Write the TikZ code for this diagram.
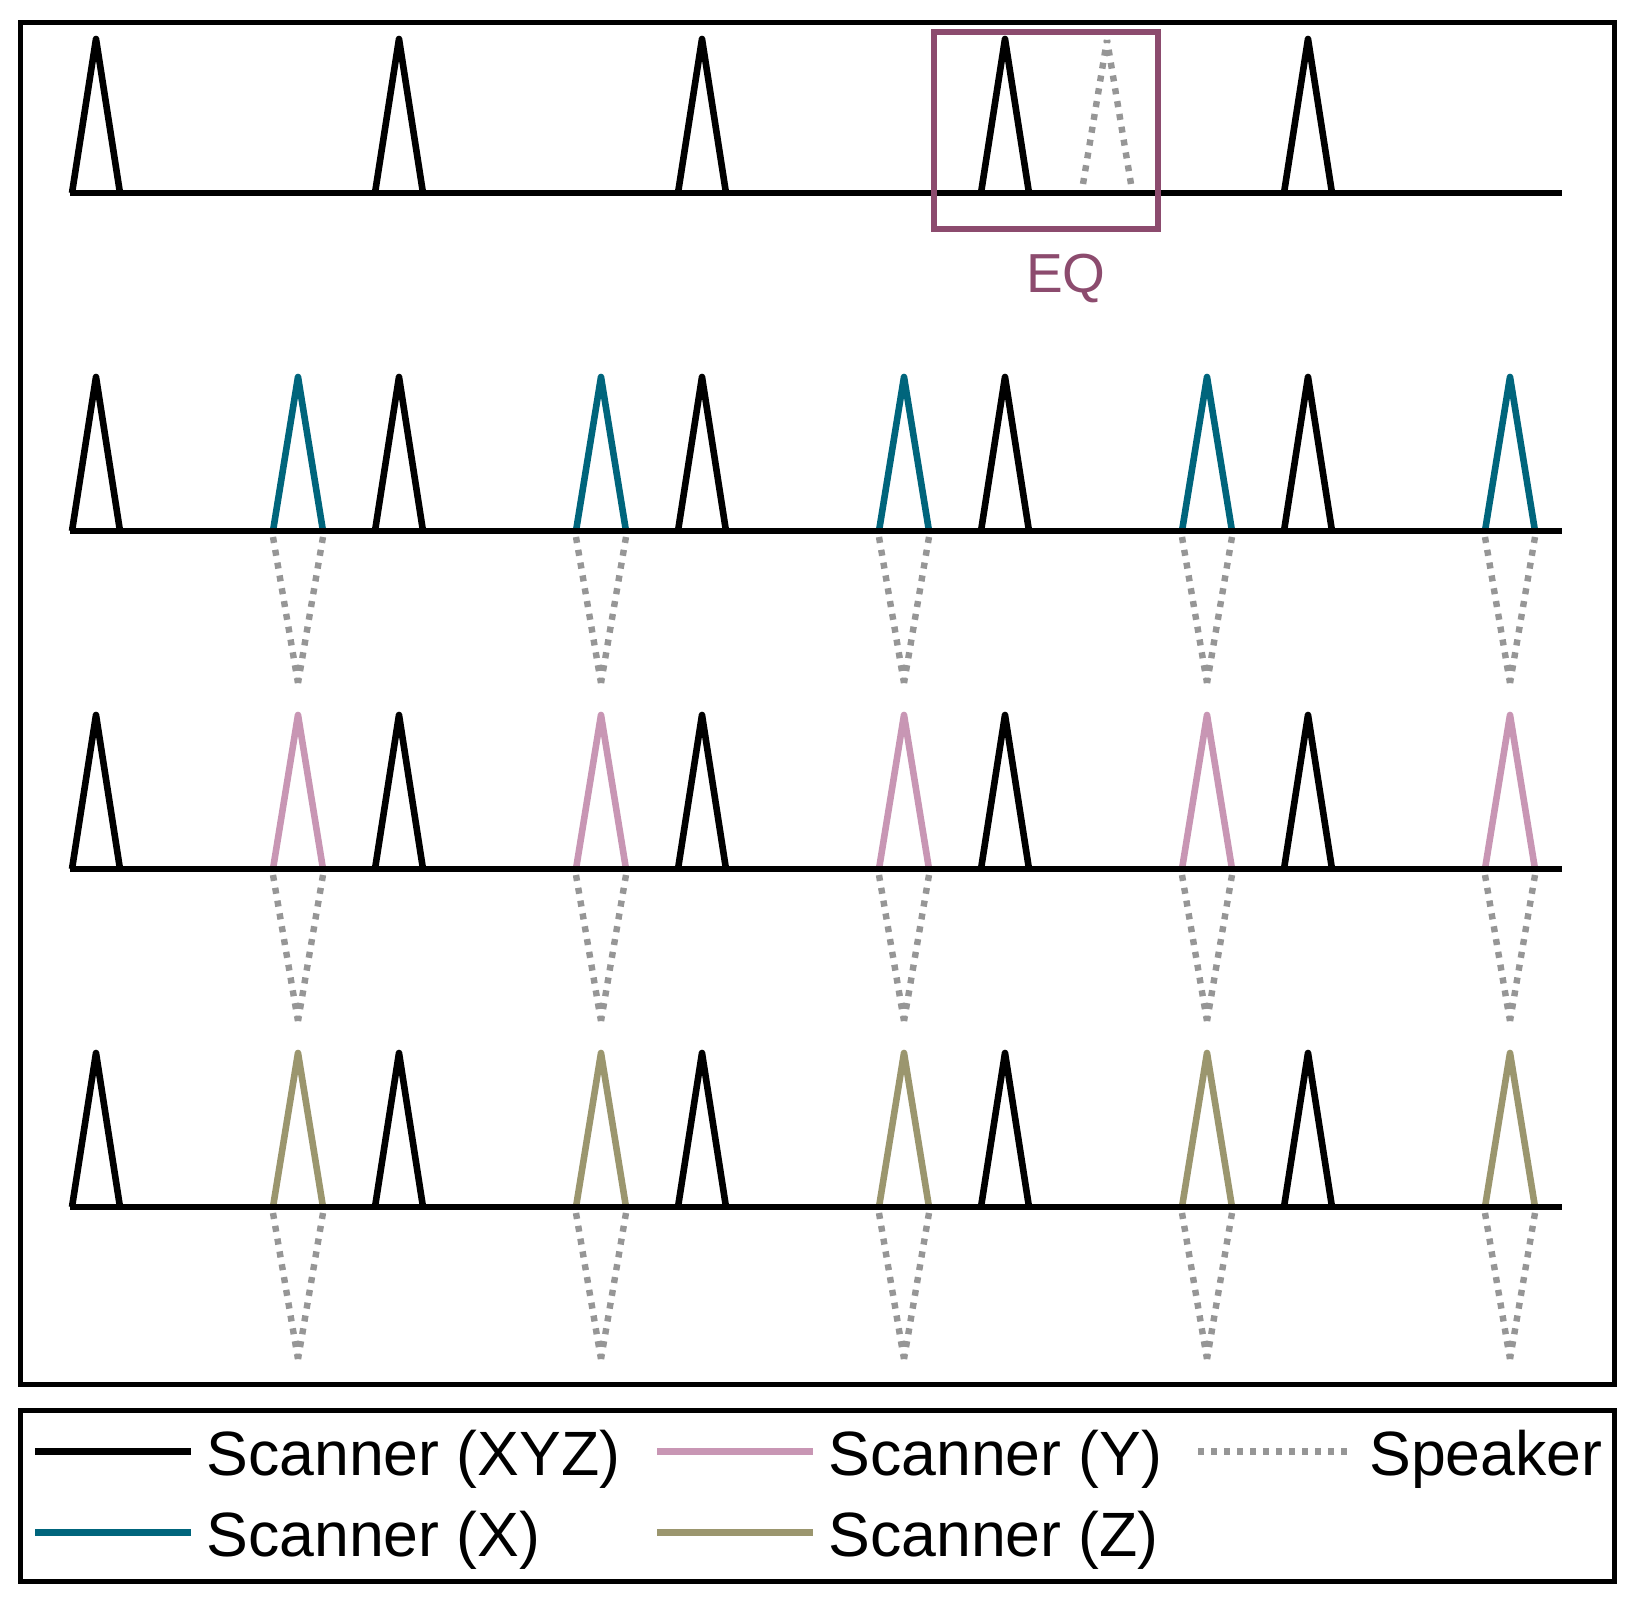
\documentclass[tikz,border=0pt]{standalone}
\usepackage{fontspec}
\setmainfont{Liberation Sans}

\definecolor{scanx}{RGB}{0,101,124}
\definecolor{scany}{RGB}{200,150,180}
\definecolor{scanz}{RGB}{155,150,110}
\definecolor{eqcol}{RGB}{140,75,110}
\definecolor{spkcol}{RGB}{150,150,150}

\begin{document}
\begin{tikzpicture}[x=0.5pt, y=-0.5pt,
  pulse/.style={line width=3.3pt, line join=round},
  spkline/.style={line width=3.2pt, color=spkcol, dash pattern=on 3pt off 3.5pt},
  frame/.style={line width=2.5pt},
  legtext/.style={anchor=base west, inner sep=0pt, font=\fontsize{31.3}{36}\selectfont}]
  \useasboundingbox (0,0) rectangle (1640,1610);
  \draw[frame] (20,22.5) rectangle (1614,1384);
  \draw[frame] (20,1410) rectangle (1614,1581);

  % scanner pulses (colour) with speaker echo below
  \foreach \y/\c in {531/scanx, 869/scany, 1207/scanz}
  {
    \foreach \x in {298, 601, 904, 1207, 1510}
    {
      \draw[pulse, \c] (\x-25,\y) -- (\x,\y-154) -- (\x+25,\y);
      \draw[spkline] (\x-25,\y+6) -- (\x,\y+152);
      \draw[spkline] (\x+25,\y+6) -- (\x,\y+152);
    }
  }
  % XYZ pulses and base lines
  \foreach \y in {193, 531, 869, 1207}
  {
    \foreach \x in {96, 399, 702, 1005, 1308}
      \draw[pulse] (\x-24,\y) -- (\x,\y-154) -- (\x+24,\y);
    \draw[pulse] (70,\y) -- (1562,\y);
  }

  % EQ window
  \draw[spkline] (1083,184) -- (1107,40);
  \draw[spkline] (1131,184) -- (1107,40);
  \draw[eqcol, line width=3pt] (934,32) rectangle (1158,229);
  \node[eqcol, anchor=base, inner sep=0pt, font=\fontsize{27.5}{32}\selectfont] (eq) at (1066,293) {EQ};

  % legend
  \foreach \c/\yy/\xa/\t in {black/1451/35/Scanner (XYZ), scanx/1532/35/Scanner (X),
                             scany/1451/657/Scanner (Y), scanz/1532/657/Scanner (Z)}
  {
    \draw[line width=3.5pt, \c] (\xa,\yy) -- (\xa+156,\yy);
    \node[legtext] at (\xa+171,\yy+24) {\t};
  }
  \draw[spkline, line width=3.5pt] (1198,1451) -- (1354,1451);
  \node[legtext] (spk) at (1369,1475) {Speaker};
\end{tikzpicture}
\end{document}
